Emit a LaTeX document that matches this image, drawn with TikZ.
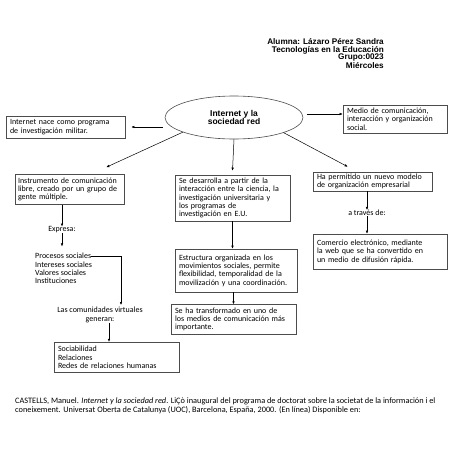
\documentclass[tikz,border=0pt]{standalone}
\usepackage{fontspec}
\setmainfont{Carlito}
\newfontfamily\headfont{Liberation Sans}
\usetikzlibrary{arrows.meta,shapes.geometric}

\begin{document}
\begin{tikzpicture}[x=1pt,y=-1pt]
	\tikzset{
		caja/.style={draw=black!70,line width=0.6pt,inner xsep=4pt,inner ysep=1pt,align=left,font=\fontsize{8}{8.4}\selectfont},
		texto/.style={inner sep=0pt,font=\fontsize{8}{8.4}\selectfont},
		flecha/.style={-{Latex[length=3pt,width=2.6pt]},line width=0.5pt}}
	\useasboundingbox (0,0) rectangle (453,453);
	\node[anchor=east,align=right,inner sep=0pt,font=\headfont\bfseries\fontsize{8.2}{7.6}\selectfont](datos) at (384,53.5){Alumna: Lázaro Pérez Sandra\\Tecnologías en la Educación\\Grupo:0023\\Miércoles};
	\node[ellipse,draw=black!70,line width=0.6pt,inner sep=0pt,minimum width=138pt,minimum height=43pt,align=center,font=\headfont\bfseries\fontsize{8.5}{8.4}\selectfont](red) at (234,117.5){Internet y la\\sociedad red};
	\node[caja,text width=111pt,minimum height=22pt](militar) at (65.5,127){Internet nace como programa\\de investigación militar.};
	\node[caja,text width=96pt,minimum height=28pt](medio) at (395,119){Medio de comunicación,\\interacción y organización\\social.};
	\node[caja,inner xsep=3pt,text width=103pt,minimum height=30pt](instrumento) at (69.5,189.5){Instrumento de comunicación\\libre, creado por un grupo de\\gente múltiple.};
	\node[caja,text width=107pt,minimum height=46pt](desarrolla) at (232.5,198){Se desarrolla a partir de la\\interacción entre la ciencia, la\\investigación universitaria y\\los programas de\\investigación en E.U.};
	\node[caja,text width=111pt,minimum height=19pt](modelo) at (372.5,181.5){Ha permitido un nuevo modelo\\de organización empresarial};
	\node[texto](traves) at (367,213){a través de:};
	\node[caja,text width=126pt,minimum height=35pt](comercio) at (380,251.5){Comercio electrónico, mediante\\la web que se ha convertido en\\un medio de difusión rápida.};
	\node[caja,text width=114pt,minimum height=43pt](estructura) at (236,270.5){Estructura organizada en los\\movimientos sociales, permite\\flexibilidad, temporalidad de la\\movilización y una coordinación.};
	\node[caja,text width=117pt,minimum height=29.5pt](transformado) at (233.5,319.3){Se ha transformado en uno de\\los medios de comunicación más\\importante.};
	\node[texto](expresa) at (62,230){Expresa:};
	\foreach \t [count=\i] in {Procesos sociales,Intereses sociales,Valores sociales,Instituciones}
		\node[texto,anchor=base west](p\i) at (35,250.5+8.3*\i){\t};
	\coordinate (cv) at (121,305);
	\node[texto,align=center](comunidades) at (100,315){Las comunidades virtuales\\generan:};
	\node[caja,text width=117pt,minimum height=29.5pt](sociabilidad) at (116.5,357.3){Sociabilidad\\Relaciones\\Redes de relaciones humanas};
	\node[texto,anchor=north west,align=left,font=\fontsize{8.3}{9}\selectfont](cita) at (15,398){CASTELLS, Manuel. \textit{Internet y la sociedad red}. LiÇò inaugural del programa de doctorat sobre la societat de la información i el\\coneixement. Universat Oberta de Catalunya (UOC), Barcelona, España, 2000. (En línea) Disponible en:};
	\draw[flecha]([xshift=-2pt]red.west |- militar.east)-- ([xshift=6pt]militar.east);
	\draw[flecha]([shift={(4pt,3.5pt)}]red.east)-- ([yshift=5pt]medio.west);
	\draw[flecha](red.196)-- ([shift={(-18pt,7pt)}]instrumento.north east);
	\draw[flecha](red.south)-- ([yshift=4pt]desarrolla.north);
	\draw[flecha](red.-17)-- ([shift={(35pt,5pt)}]modelo.north west);
	\draw[flecha](traves |- modelo.south)-- (traves.north);
	\draw[flecha](traves.south)-- (traves |- comercio.north);
	\draw[flecha](desarrolla.south)-- (desarrolla.south |- estructura.north);
	\draw[flecha](transformado |- estructura.south)-- (transformado.north);
	\draw[flecha](expresa |- instrumento.south)-- (expresa.north);
	\draw[flecha](expresa.south)-- ++(0,13);
	\draw[flecha](p1.east)-| (cv);
	\draw[flecha]([xshift=9pt]comunidades.south)-- ++(0,19);
\end{tikzpicture}
\end{document}
